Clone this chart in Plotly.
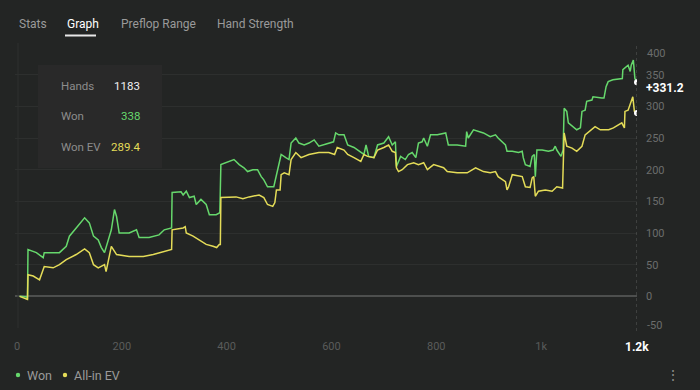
import plotly.graph_objects as go

# ---------------- data ----------------
won_hands = [5, 19, 20, 21, 37, 50, 52, 56, 81, 94,
             100, 113, 129, 138, 146, 155, 161, 167, 174, 180,
             186, 190, 195, 214, 228, 233, 252, 271, 281, 291,
             295, 296, 313, 317, 323, 329, 338, 342, 351, 361,
             367, 380, 385, 387, 389, 399, 408, 414, 424, 433,
             440, 450, 459, 466, 471, 478, 490, 497, 504, 513,
             519, 523, 532, 538, 548, 557, 567, 576, 585, 595,
             604, 608, 614, 624, 631, 643, 656, 662, 666, 671,
             681, 688, 700, 709, 716, 722, 724, 732, 741, 747,
             754, 761, 766, 773, 776, 783, 789, 802, 818, 823,
             840, 856, 858, 861, 871, 890, 903, 913, 918, 932,
             935, 945, 957, 964, 966, 970, 979, 983, 987, 989,
             992, 1002, 1014, 1023, 1027, 1030, 1038, 1042, 1044, 1049,
             1052, 1061, 1068, 1075, 1078, 1084, 1087, 1097, 1099, 1116,
             1120, 1124, 1128, 1137, 1151, 1155, 1156, 1166, 1170, 1172,
             1176, 1179, 1183]
won_values = [0, -1, -5, 74, 69, 61, 69, 69, 69, 79,
              95, 108, 124, 116, 95, 89, 77, 69, 89, 105,
              137, 126, 100, 100, 105, 93, 93, 97, 105, 108,
              108, 164, 165, 160, 166, 156, 158, 145, 153, 145,
              129, 129, 132, 132, 208, 211, 213, 216, 208, 203,
              197, 200, 200, 189, 184, 173, 173, 200, 224, 219,
              216, 242, 250, 242, 239, 242, 247, 237, 239, 242,
              244, 258, 255, 255, 239, 235, 227, 224, 239, 221,
              219, 239, 242, 252, 239, 244, 205, 221, 216, 224,
              227, 219, 242, 244, 250, 237, 255, 255, 258, 239,
              239, 237, 260, 250, 263, 258, 252, 255, 250, 239,
              229, 229, 227, 229, 219, 208, 205, 221, 224, 189,
              231, 231, 229, 231, 237, 231, 221, 231, 297, 292,
              274, 268, 263, 266, 292, 294, 308, 310, 315, 313,
              313, 331, 339, 342, 344, 344, 358, 365, 355, 365,
              373, 344, 338]

ev_hands = [5, 20, 21, 31, 43, 52, 69, 81, 94, 113,
            129, 138, 146, 155, 167, 170, 180, 190, 214, 241,
            260, 279, 291, 295, 296, 313, 317, 321, 323, 336,
            348, 361, 374, 381, 386, 388, 389, 405, 418, 431,
            443, 462, 471, 478, 488, 492, 495, 502, 504, 510,
            519, 523, 532, 542, 557, 576, 595, 606, 611, 624,
            631, 643, 656, 662, 669, 681, 688, 700, 709, 716,
            722, 724, 728, 735, 745, 757, 766, 776, 783, 795,
            814, 821, 840, 859, 875, 890, 903, 913, 918, 932,
            935, 938, 945, 964, 967, 970, 979, 983, 986, 989,
            995, 1008, 1021, 1030, 1041, 1044, 1049, 1059, 1068, 1078,
            1084, 1097, 1103, 1113, 1129, 1138, 1154, 1159, 1160, 1166,
            1172, 1175, 1178, 1183]
ev_values = [0, -5, 34, 32, 26, 47, 45, 50, 58, 66,
             75, 69, 50, 45, 50, 39, 79, 66, 63, 63,
             66, 71, 74, 74, 105, 108, 108, 110, 100, 95,
             89, 82, 79, 77, 82, 82, 156, 156, 157, 154,
             157, 160, 156, 145, 142, 148, 168, 168, 192, 195,
             192, 216, 227, 219, 224, 227, 227, 224, 235, 231,
             224, 219, 213, 224, 221, 219, 231, 235, 239, 229,
             227, 203, 197, 200, 208, 211, 208, 211, 200, 208,
             203, 197, 195, 195, 203, 197, 195, 197, 189, 181,
             168, 173, 192, 189, 181, 173, 172, 187, 189, 158,
             166, 168, 166, 173, 171, 258, 237, 234, 229, 237,
             255, 263, 268, 263, 263, 266, 274, 266, 292, 294,
             310, 315, 292, 289.4]

series_names = ["Won", "All-in EV"]
tabs = ["Stats", "Graph", "Preflop Range", "Hand Strength"]
active_tab = "Graph"
stat_labels = ["Hands", "Won", "Won EV"]
stat_values = ["1183", "338", "289.4"]
x_tick_vals = [0, 200, 400, 600, 800, 1000]
x_tick_text = ["0", "200", "400", "600", "800", "1k"]
y_tick_vals = [-50, 0, 50, 100, 150, 200, 250, 300, 350, 400]
hover_x_label = "1.2k"
hover_y_value = 331.2

# ---------------- style ----------------
BG = "#232524"
GREEN = "#66d86c"
YELLOW = "#e4dc58"
FONT = "Roboto"
L, R, T, B = 15, 63, 43, 62
W, H = 700, 390
PW, PH = W - L - R, H - T - B


def px(x):
    return (x - L) / PW


def py(y):
    return (H - B - y) / PH


fig = go.Figure()
fig.add_trace(go.Scatter(x=won_hands, y=won_values, mode="lines", name=series_names[0],
                         line=dict(color=GREEN, width=1.5), hoverinfo="skip"))
fig.add_trace(go.Scatter(x=ev_hands, y=ev_values, mode="lines", name=series_names[1],
                         line=dict(color=YELLOW, width=1.5), hoverinfo="skip"))
fig.add_trace(go.Scatter(x=[won_hands[-1], ev_hands[-1]], y=[won_values[-1], ev_values[-1]],
                         mode="markers", marker=dict(color="white", size=6), hoverinfo="skip"))

shapes = []
annotations = []

# tabs
tab_x = [17, 65, 119, 215]
for t, x in zip(tabs, tab_x):
    active = t == active_tab
    annotations.append(dict(text=t, x=px(x), y=py(24),
                            xref="paper", yref="paper", xanchor="left", yanchor="middle",
                            showarrow=False,
                            font=dict(family=FONT, size=12,
                                      color="#ffffff" if active else "#9a9a9a")))
shapes.append(dict(type="line", xref="paper", yref="paper", x0=px(65), x1=px(96),
                   y0=py(35.5), y1=py(35.5), line=dict(color="#e8e8e8", width=2)))

# stats box
shapes.append(dict(type="rect", xref="paper", yref="paper", x0=px(38), x1=px(162),
                   y0=py(168), y1=py(65), fillcolor="#292929", line=dict(width=0),
                   layer="above"))
stat_colors = ["#f0f0f0", GREEN, YELLOW]
for i, (lab, val) in enumerate(zip(stat_labels, stat_values)):
    yy = 86 + i * 30.3
    annotations.append(dict(text=lab, x=px(59), y=py(yy), xref="paper", yref="paper",
                            xanchor="left", yanchor="middle", showarrow=False,
                            font=dict(family=FONT, size=11.5, color="#8c8c8c")))
    annotations.append(dict(text=val, x=px(141.5), y=py(yy), xref="paper", yref="paper",
                            xanchor="right", yanchor="middle", showarrow=False,
                            font=dict(family=FONT, size=11.5, color=stat_colors[i])))

# hover crosshair
shapes.append(dict(type="line", xref="x", yref="paper", x0=won_hands[-1], x1=won_hands[-1],
                   y0=py(331), y1=py(44), line=dict(color="#5a5c5b", width=1, dash="dot")))
annotations.append(dict(text="<b>+%.1f</b>" % hover_y_value, x=px(644), y=py(87.5),
                        xref="paper", yref="paper", xanchor="left", yanchor="middle",
                        showarrow=False, font=dict(family=FONT, size=12, color="#ffffff")))
annotations.append(dict(text="<b>%s</b>" % hover_x_label, x=won_hands[-1], y=py(347),
                        xref="x", yref="paper", xanchor="center", yanchor="middle",
                        showarrow=False, font=dict(family=FONT, size=12, color="#ffffff")))

# edge y labels (shifted inward)
annotations.append(dict(text=str(y_tick_vals[-1]), x=px(645), y=py(53.3), xref="paper",
                        yref="paper", xanchor="left", yanchor="middle", showarrow=False,
                        font=dict(family=FONT, size=11, color="#6b6d6c")))
annotations.append(dict(text=str(y_tick_vals[0]), x=px(645), y=py(325.7), xref="paper",
                        yref="paper", xanchor="left", yanchor="middle", showarrow=False,
                        font=dict(family=FONT, size=11, color="#6b6d6c")))

# legend
leg_x = [18, 65]
leg_col = [GREEN, YELLOW]
for name, x, c in zip(series_names, leg_x, leg_col):
    shapes.append(dict(type="circle", xref="paper", yref="paper",
                       x0=px(x - 2.2), x1=px(x + 2.2), y0=py(377.2), y1=py(372.8),
                       fillcolor=c, line=dict(width=0)))
    annotations.append(dict(text=name, x=px(x + 7), y=py(375), xref="paper", yref="paper",
                            xanchor="left", yanchor="middle", showarrow=False,
                            font=dict(family=FONT, size=12.5, color="#9a9a9a")))
annotations.append(dict(text="⋮", x=px(673), y=py(375), xref="paper", yref="paper",
                        xanchor="center", yanchor="middle", showarrow=False,
                        font=dict(family=FONT, size=14, color="#8a8a8a")))

# left frame line
shapes.append(dict(type="line", xref="paper", yref="paper", x0=px(18), x1=px(18),
                   y0=0, y1=1, line=dict(color="#2e302f", width=1)))

fig.update_layout(
    width=W, height=H,
    margin=dict(l=L, r=R, t=T, b=B),
    paper_bgcolor=BG, plot_bgcolor=BG,
    showlegend=False,
    shapes=shapes, annotations=annotations,
    font=dict(family=FONT),
    xaxis=dict(range=[-3.8, 1183], tickvals=x_tick_vals, ticktext=x_tick_text,
               showgrid=False, zeroline=False, showline=False, ticks="",
               tickfont=dict(family=FONT, size=11, color="#5a5c5b"),
               ticklabelstandoff=10, fixedrange=True),
    yaxis=dict(range=[-50, 400], side="right", tickvals=y_tick_vals,
               ticktext=[("" if v in (y_tick_vals[0], y_tick_vals[-1]) else str(v)) for v in y_tick_vals],
               showgrid=True, gridcolor="#2d2f2e", gridwidth=1,
               zeroline=True, zerolinecolor="#4d4f4e", zerolinewidth=2,
               showline=False, ticks="",
               tickfont=dict(family=FONT, size=11, color="#6b6d6c"),
               ticklabelstandoff=8, fixedrange=True),
)

fig.write_html(
    "out.html",
    config={"displayModeBar": False},
    post_script="document.body.style.margin='0px';document.body.style.background='%s';" % BG,
)
